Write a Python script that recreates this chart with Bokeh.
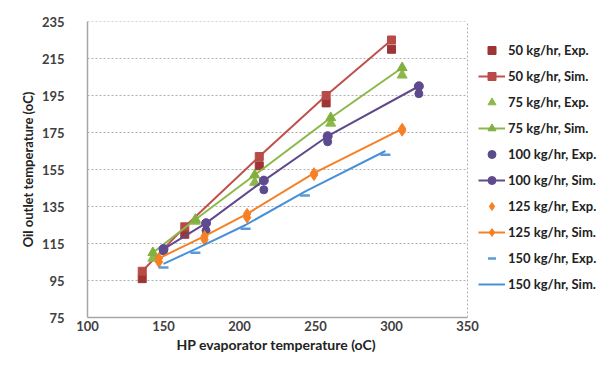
from bokeh.plotting import figure
from bokeh.models import Legend, LegendItem, FixedTicker, Range1d, Title
from bokeh.embed import file_html
from bokeh.resources import INLINE

# ---- data ----
x50 = [136, 164, 213, 257, 300]
sim50 = [100, 124, 162, 195, 225]
exp50 = [96, 120, 157, 191, 220]

x75 = [143, 171, 210, 260, 307]
sim75 = [110, 128, 152, 183, 210]
exp75 = [107, 127, 148, 180, 206]

x100 = [150, 178, 216, 258, 318]
sim100 = [112, 126, 149, 173, 200]
exp100 = [111, 122, 144, 170, 196]

x125 = [147, 177, 205, 249, 307]
sim125 = [107, 119, 131, 153, 177]
exp125 = [105, 117, 129, 152, 176]

x150 = [150, 171, 204, 243, 296]
sim150 = [104, 112, 125, 143, 165]
exp150 = [102, 110, 123, 141, 163]

x_ticks = [100, 150, 200, 250, 300, 350]
y_ticks = [75, 95, 115, 135, 155, 175, 195, 215, 235]

FONT = "Lato"

# frame spans 87..600 px; data area 100..350 occupies 87..467, the rest holds the legend
X_END = 100 + (600 - 87) * (350 - 100) / (467 - 87)

p = figure(width=608, height=362, output_backend="svg", toolbar_location=None,
           x_range=Range1d(100, X_END), y_range=Range1d(75, 235),
           min_border_left=87, min_border_right=8, min_border_top=21, min_border_bottom=45)
p.outline_line_color = None

p.xaxis.ticker = FixedTicker(ticks=x_ticks)
p.yaxis.ticker = FixedTicker(ticks=y_ticks)
p.xaxis.bounds = (x_ticks[0], x_ticks[-1])
for ax in (p.xaxis[0], p.yaxis[0]):
    ax.major_tick_out = 0
    ax.major_tick_in = 0
    ax.minor_tick_out = 0
    ax.minor_tick_in = 0
    ax.axis_line_color = "#a6a6a6"
    ax.axis_line_width = 1.5
    ax.major_label_text_font = FONT
    ax.major_label_text_font_style = "bold"
    ax.major_label_text_font_size = "13px"
    ax.major_label_text_color = "#404040"
    ax.axis_label_text_font = FONT
    ax.axis_label_text_font_style = "bold"
    ax.axis_label_text_font_size = "13px"
    ax.axis_label_text_color = "#222222"
p.xaxis.major_label_standoff = 3
p.yaxis.major_label_standoff = 23
p.yaxis.axis_label_standoff = 3
p.yaxis.axis_label = "Oil outlet temperature (oC)"

# x-axis title centred under the data area (not under the legend)
xtitle = Title(text="HP evaporator temperature (oC)", align="left", offset=89,
               text_font=FONT, text_font_style="bold", text_font_size="14px",
               text_color="#222222", standoff=0)
p.add_layout(xtitle, "below")

# grid: horizontal dotted lines limited to the data area, dotted right edge at 350
p.ygrid.visible = False
p.segment(x0=x_ticks[0], x1=x_ticks[-1], y0=y_ticks[1:], y1=y_ticks[1:],
          line_color="#b0b0b0", line_dash="2 2", line_width=1)
p.xgrid.ticker = FixedTicker(ticks=[x_ticks[-1]])
p.xgrid.grid_line_color = "#b0b0b0"
p.xgrid.grid_line_dash = "2 2"

items = []

# 50
e = p.scatter(x50, exp50, marker="square", size=8, color="#9c3533")
l = p.line(x50, sim50, line_color="#c0504d", line_width=2)
m = p.scatter(x50, sim50, marker="square", size=8, color="#b84a47")
items += [LegendItem(label="50 kg/hr, Exp.", renderers=[e]),
          LegendItem(label="50 kg/hr, Sim.", renderers=[l, m])]
# 75
e = p.scatter(x75, exp75, marker="triangle", size=10, color="#8cb84a")
l = p.line(x75, sim75, line_color="#8cb84a", line_width=2)
m = p.scatter(x75, sim75, marker="triangle", size=10, color="#82b040")
items += [LegendItem(label="75 kg/hr, Exp.", renderers=[e]),
          LegendItem(label="75 kg/hr, Sim.", renderers=[l, m])]
# 100
e = p.scatter(x100, exp100, marker="circle", size=8, color="#5a4b8c")
l = p.line(x100, sim100, line_color="#604a8b", line_width=2)
m = p.scatter(x100, sim100, marker="circle", size=9, color="#5f4a8f")
items += [LegendItem(label="100 kg/hr, Exp.", renderers=[e]),
          LegendItem(label="100 kg/hr, Sim.", renderers=[l, m])]
# 125
e = p.scatter(x125, exp125, marker="diamond", size=11, color="#f58025")
l = p.line(x125, sim125, line_color="#f58025", line_width=2)
m = p.scatter(x125, sim125, marker="diamond", size=11, color="#f58025")
items += [LegendItem(label="125 kg/hr, Exp.", renderers=[e]),
          LegendItem(label="125 kg/hr, Sim.", renderers=[l, m])]
# 150
e = p.scatter(x150, exp150, marker="dash", size=10, line_color="#5b9bd5", line_width=2.5)
l = p.line(x150, sim150, line_color="#4a90d9", line_width=2)
items += [LegendItem(label="150 kg/hr, Exp.", renderers=[e]),
          LegendItem(label="150 kg/hr, Sim.", renderers=[l])]

legend = Legend(items=items, location=(391, 23), margin=0, padding=0,
                spacing=6, glyph_height=20, label_height=20, glyph_width=27,
                label_standoff=3, border_line_color=None, background_fill_alpha=0,
                label_text_font=FONT, label_text_font_style="bold",
                label_text_font_size="13px", label_text_color="#222222")
p.add_layout(legend, "center")

open("out.html", "w").write(file_html(p, INLINE))
